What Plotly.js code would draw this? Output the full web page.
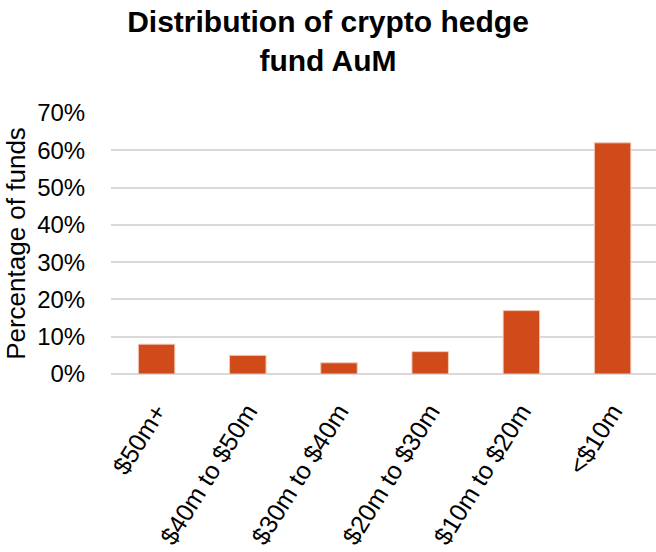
<!DOCTYPE html>
<html>
<head>
<meta charset="utf-8">
<script src="https://cdn.plot.ly/plotly-3.0.1.min.js"></script>
<style>html,body{margin:0;padding:0;background:#fff;}#chart{width:656px;height:552px;}</style>
</head>
<body>
<div id="chart"></div>
<script>
const categories = ["$50m+", "$40m to $50m", "$30m to $40m", "$20m to $30m", "$10m to $20m", "<$10m"];
const percentages = [8, 5, 3, 6, 17, 62];
const chartTitle = "Distribution of crypto hedge<br>fund AuM";
const yTitle = "Percentage of funds";

const trace = {
  type: "bar",
  x: categories,
  y: percentages,
  marker: {color: "#D04A1A", line: {color: "#F2C9B8", width: 1}},
  hoverinfo: "x+y"
};

const layout = {
  width: 656, height: 552,
  paper_bgcolor: "#fff", plot_bgcolor: "#fff",
  margin: {l: 111, r: 0, t: 113, b: 178},
  bargap: 0.6,
  showlegend: false,
  font: {family: "Liberation Sans, Arial, sans-serif", color: "#000"},
  title: {
    text: chartTitle,
    font: {family: "Liberation Sans, Arial, sans-serif", size: 30, color: "#000", weight: "bold"},
    xref: "container", x: 0.5, xanchor: "center",
    yref: "container", y: 0.942, yanchor: "top"
  },
  xaxis: {
    type: "category",
    range: [-0.5, 5.476],
    tickangle: -58,
    tickfont: {size: 25, color: "#000"},
    ticks: "outside", ticklen: 12, tickcolor: "rgba(0,0,0,0)",
    showgrid: false, showline: false, zeroline: false
  },
  yaxis: {
    range: [0, 70],
    dtick: 10,
    ticksuffix: "%",
    tickfont: {size: 24, color: "#000"},
    ticks: "outside", ticklen: 20, tickcolor: "rgba(0,0,0,0)",
    showgrid: true, gridcolor: "#D9D9D9", gridwidth: 2,
    zeroline: true, zerolinecolor: "#D9D9D9", zerolinewidth: 2,
    showline: false,
    title: {text: yTitle, font: {size: 26, color: "#000"}, standoff: 4}
  }
};

Plotly.newPlot("chart", [trace], layout, {displayModeBar: false, staticPlot: true});
</script>
</body>
</html>
